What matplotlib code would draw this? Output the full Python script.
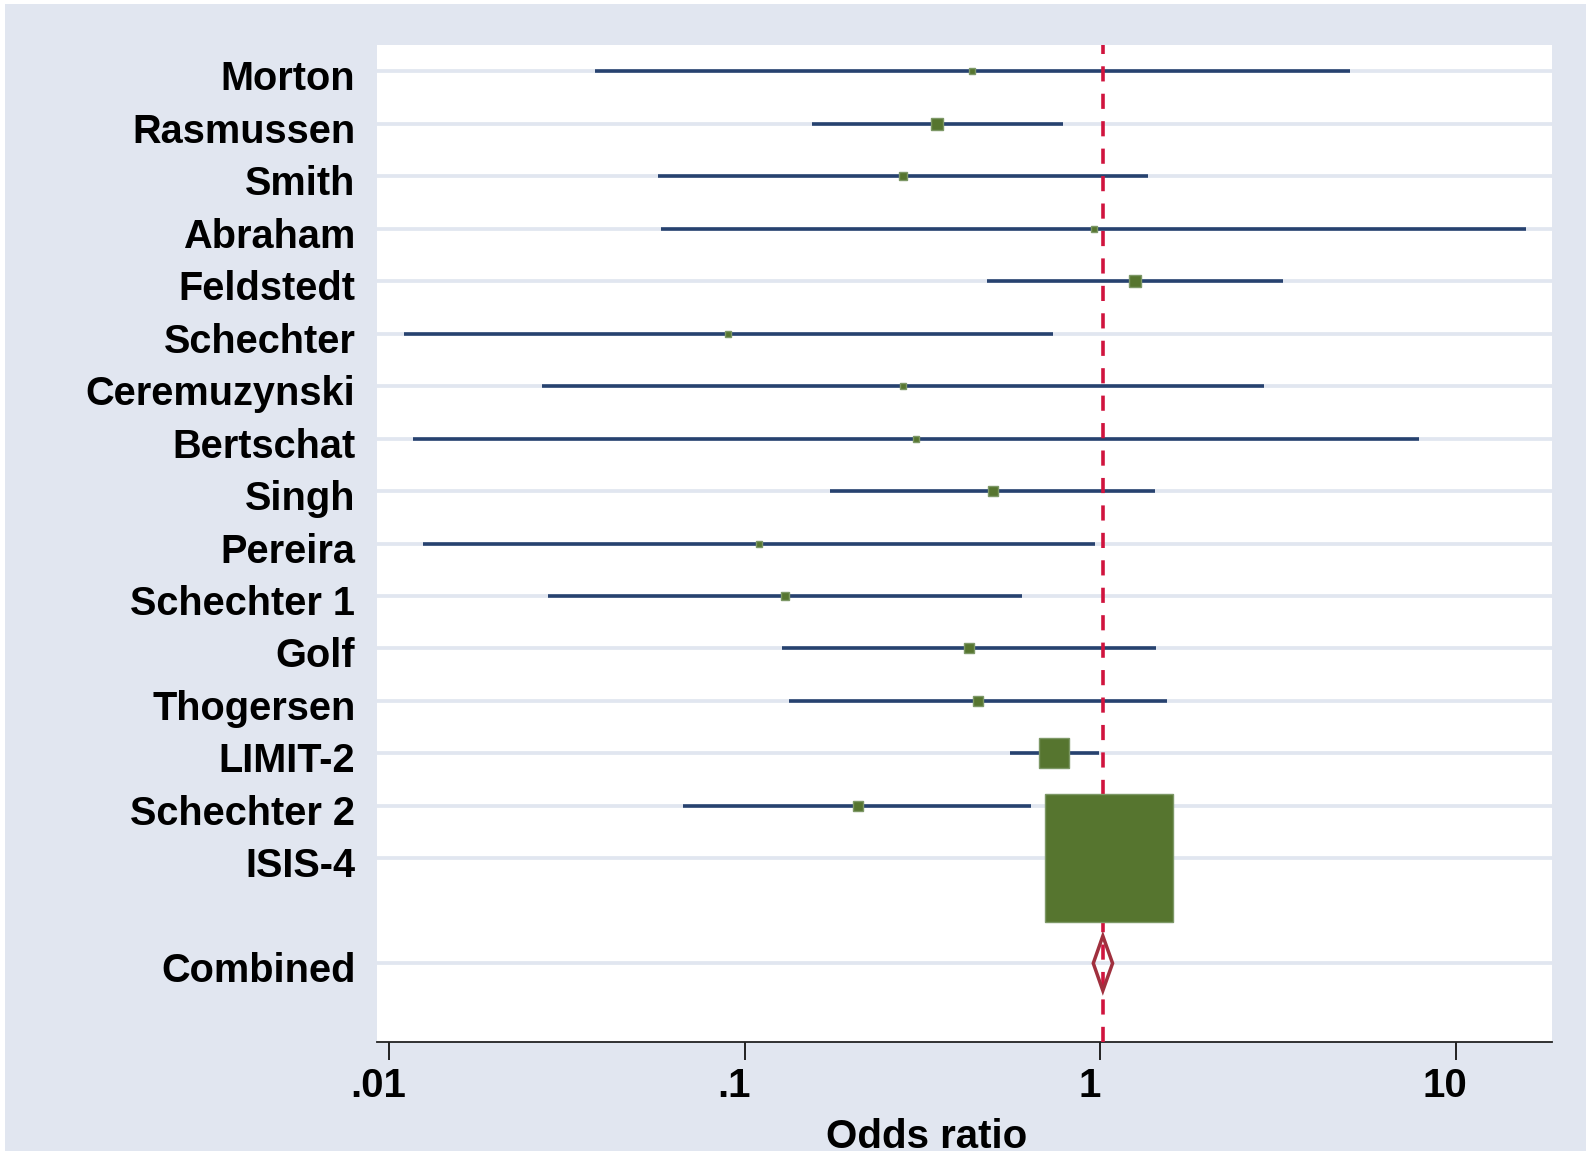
import matplotlib
matplotlib.use("Agg")
import matplotlib.pyplot as plt
import numpy as np
from matplotlib.patches import Polygon, Rectangle
import matplotlib.transforms as mtransforms

# ---------------- data ----------------
studies = ["Morton", "Rasmussen", "Smith", "Abraham", "Feldstedt", "Schechter",
           "Ceremuzynski", "Bertschat", "Singh", "Pereira", "Schechter 1", "Golf",
           "Thogersen", "LIMIT-2", "Schechter 2", "ISIS-4"]
odds_ratio = [0.436, 0.348, 0.279, 0.957, 1.250, 0.090, 0.278, 0.304, 0.499,
              0.110, 0.130, 0.427, 0.452, 0.741, 0.208, 1.059]
ci_lower = [0.038, 0.155, 0.057, 0.058, 0.479, 0.011, 0.027, 0.0117, 0.174,
            0.0125, 0.028, 0.127, 0.133, 0.556, 0.067, 0.996]
ci_upper = [5.02, 0.783, 1.358, 15.77, 3.26, 0.736, 2.88, 7.88, 1.426,
            0.967, 0.602, 1.436, 1.543, 0.988, 0.640, 1.127]
weight_pct = [0.06, 0.54, 0.14, 0.05, 0.39, 0.08, 0.07, 0.03, 0.32,
              0.08, 0.15, 0.24, 0.24, 4.33, 0.28, 92.99]
combined_label = "Combined"
combined_or = 1.016
combined_lower = 0.955
combined_upper = 1.082
x_ticks = [0.01, 0.1, 1, 10]
x_tick_labels = [".01", ".1", "1", "10"]
x_title = "Odds ratio"

# ---------------- style ----------------
W, H, DPI = 1593, 1155, 100
BG = "#e1e6f0"
NAVY = "#27426f"
GREEN = "#56752f"
GREEN_EDGE = "#7d9866"
RED = "#d0143e"
MAROON = "#a0303e"
FONT = ["Liberation Sans", "DejaVu Sans"]
FS_Y = 28.6
FS_X = 29

plt.rcParams["font.family"] = FONT
plt.rcParams["font.weight"] = "bold"

fig = plt.figure(figsize=(W / DPI, H / DPI), dpi=DPI)
fig.patch.set_facecolor("white")
fig.add_artist(Rectangle((5 / W, 4 / H), (1586 - 5) / W, (1151 - 4) / H,
                         transform=fig.transFigure, facecolor=BG,
                         edgecolor="none", zorder=-10))

left, right, top, bottom = 377, 1552, 45, 1042
ax = fig.add_axes([left / W, (H - bottom) / H, (right - left) / W, (bottom - top) / H])
ax.set_facecolor("white")

n = len(studies)
y_study = np.arange(n)
y_comb = n + 1
ypos = list(y_study) + [y_comb]

# gridlines
for y in ypos:
    ax.axhline(y, color=BG, lw=2.7, zorder=1)

# confidence intervals
ax.hlines(y_study, ci_lower, ci_upper, color=NAVY, lw=2.6, zorder=2)

# overall effect line
ax.axvline(combined_or, color=RED, lw=2.6, dashes=(4.2, 3.4), zorder=3)

# weighted boxes
w = np.array(weight_pct)
sizes = 9.32 * np.sqrt(w) + 2.3
for yi, o, s in zip(y_study, odds_ratio, sizes):
    ax.plot([o], [yi], marker="s", ms=s, mfc=GREEN, mec=GREEN_EDGE, mew=1.0,
            ls="none", zorder=4)

# combined diamond
dh = 0.52
diamond = Polygon([(combined_lower, y_comb), (combined_or, y_comb - dh),
                   (combined_upper, y_comb), (combined_or, y_comb + dh)],
                  closed=True, fill=False, edgecolor=MAROON, lw=2.5, zorder=5)
ax.add_patch(diamond)

# axes
ax.set_xscale("log")
ax.set_xlim(10 ** -2.0337, 10 ** 1.2696)
ax.set_ylim(18.5, -0.5)
ax.set_xticks(x_ticks)
ax.set_xticklabels(x_tick_labels, fontsize=FS_X, fontweight="bold")
ax.xaxis.set_minor_locator(matplotlib.ticker.NullLocator())
ax.set_yticks(ypos)
ax.set_yticklabels(studies + [combined_label], fontsize=FS_Y, fontweight="bold")
ax.tick_params(axis="y", length=0, pad=15.5)
ax.tick_params(axis="x", direction="out", length=12.7, width=1.4, pad=5,
               color="#222222")
for sp in ["left", "right", "top"]:
    ax.spines[sp].set_visible(False)
ax.spines["bottom"].set_linewidth(1.3)
ax.spines["bottom"].set_color("#222222")

xoff = mtransforms.ScaledTranslation(-11 / DPI, 0, fig.dpi_scale_trans)
for lab in ax.get_xticklabels():
    lab.set_transform(lab.get_transform() + xoff)
yoff = mtransforms.ScaledTranslation(0, -4 / DPI, fig.dpi_scale_trans)
for lab in ax.get_yticklabels():
    lab.set_transform(lab.get_transform() + yoff)

fig.text(826 / W, (H - 1148) / H, x_title, fontsize=FS_X, fontweight="bold",
         ha="left", va="baseline")

fig.savefig("out.png", dpi=DPI, facecolor=fig.get_facecolor())
